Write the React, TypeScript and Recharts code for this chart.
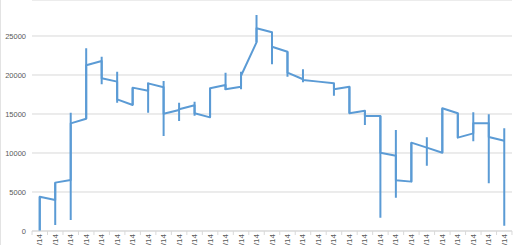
import { ComposedChart, Line, XAxis, YAxis, CartesianGrid } from "recharts";

const labels = [
  "1/6/14", "1/7/14", "1/8/14", "1/9/14", "1/10/14", "1/13/14", "1/14/14", "1/15/14",
  "1/16/14", "1/17/14", "1/20/14", "1/21/14", "1/22/14", "1/23/14", "1/24/14", "1/27/14",
  "1/28/14", "1/29/14", "1/30/14", "1/31/14", "2/3/14", "2/4/14", "2/5/14", "2/6/14",
  "2/7/14", "2/10/14", "2/11/14", "2/12/14", "2/13/14", "2/14/14", "2/17/14",
];

// value where the line arrives at each category, and where it leaves
const opens = [
  0, 3980, 6540, 14400, 21800, 19150, 16150, 17990, 18420, 15500, 16110, 14570, 18720, 18500, 24190, 25470,
  22990, 19450, 19150, 18930, 18500, 15430, 14750, 9660, 6330, 10690, 10040, 15090, 12520, 13800, 11580,
];
const closes = [
  4400, 6200, 13800, 21240, 19570, 16880, 18380, 18930, 15040, 15600, 15090, 18290, 18160, 19900, 25990, 23630,
  20300, 19360, 19150, 18160, 15090, 14750, 10040, 6500, 11330, 10690, 15730, 11970, 13800, 12050, 11580,
];
const highs = [
  4400, 6200, 15170, 23420, 22350, 20430, 18380, 19020, 19230, 16450, 16580, 18290, 20300, 20430, 27700, 25470,
  22990, 20730, 19150, 18930, 18500, 15430, 14750, 12950, 11330, 12010, 15730, 15090, 15220, 14960, 13160,
];
const lows = [
  0, 770, 1410, 14400, 18800, 16450, 16150, 15170, 12180, 14100, 14790, 14570, 18080, 18160, 24190, 21370,
  19790, 19060, 19150, 17350, 15090, 13590, 1710, 4270, 6330, 8380, 10040, 11970, 11500, 6110, 680,
];

const yTicks = [0, 5000, 10000, 15000, 20000, 25000];

const lineData = labels.flatMap((_, i) => [
  { x: i, v: opens[i] },
  { x: i, v: closes[i] },
]);

const rangeData = labels.flatMap((_, i) => [
  { x: i, hl: lows[i] },
  { x: i, hl: highs[i] },
  { x: i, hl: null },
]);

const BLUE = "#5B9BD5";
const TEXT = "#595959";
const band = 479 / labels.length;

const DateTick = (props: any) => {
  const { x, payload } = props;
  const i = payload.value;
  const ty = 234;
  return (
    <g>
      <line x1={x - band / 2} x2={x - band / 2} y1={231} y2={235} stroke="#d9d9d9" />
      {i === labels.length - 1 && (
        <line x1={x + band / 2} x2={x + band / 2} y1={231} y2={235} stroke="#d9d9d9" />
      )}
      <text
        x={x}
        y={ty}
        transform={`rotate(-90, ${x}, ${ty})`}
        textAnchor="end"
        dominantBaseline="central"
        fontSize={8}
        fill={TEXT}
      >
        {labels[i]}
      </text>
    </g>
  );
};

export default function App() {
  return (
    <div
      style={{
        position: "fixed",
        top: 0,
        left: 0,
        width: 520,
        height: 245,
        background: "#fff",
        fontFamily: "'Liberation Sans', Arial, sans-serif",
        borderLeft: "1px solid #e3e3e3",
        boxSizing: "border-box",
      }}
    >
      <ComposedChart
        width={519}
        height={245}
        margin={{ top: 0, right: 8, left: -1, bottom: 0 }}
      >
        <CartesianGrid vertical={false} stroke="#d9d9d9" />
        <XAxis
          type="number"
          dataKey="x"
          domain={[-0.5, labels.length - 0.5]}
          ticks={labels.map((_, i) => i)}
          interval={0}
          height={14}
          stroke="#d9d9d9"
          tickLine={false}
          tick={<DateTick />}
        />
        <YAxis
          type="number"
          domain={[0, 29615]}
          ticks={yTicks}
          width={32}
          axisLine={false}
          tickLine={false}
          tickMargin={6}
          tickSize={0}
          tick={{ fontSize: 7.5, fill: TEXT }}
          allowDataOverflow
        />
        <Line
          data={rangeData}
          dataKey="hl"
          stroke={BLUE}
          strokeWidth={2}
          dot={false}
          activeDot={false}
          connectNulls={false}
          isAnimationActive={false}
        />
        <Line
          data={lineData}
          dataKey="v"
          stroke={BLUE}
          strokeWidth={2}
          strokeLinejoin="round"
          dot={false}
          activeDot={false}
          isAnimationActive={false}
        />
      </ComposedChart>
    </div>
  );
}
